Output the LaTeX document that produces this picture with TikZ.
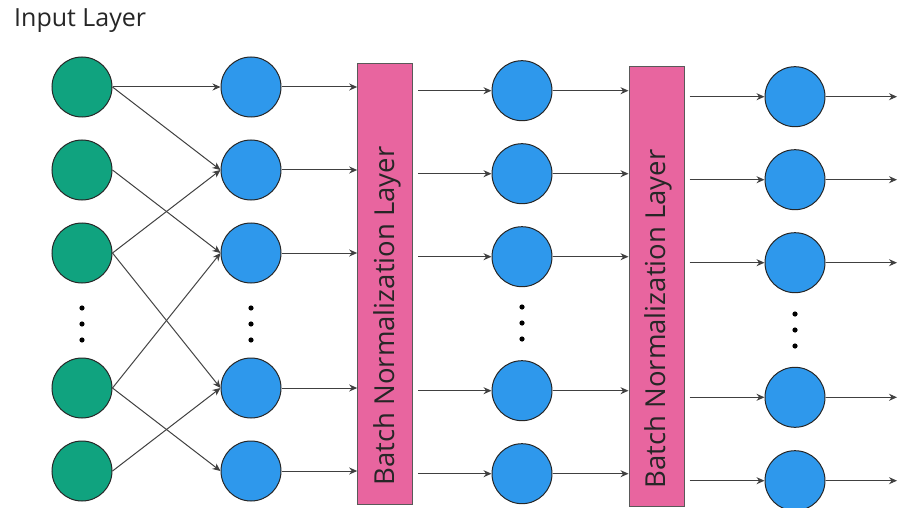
\documentclass[tikz,border=0pt]{standalone}
\usepackage{fontspec}
\setmainfont{Open Sans}
\usepackage{tikz}
\usetikzlibrary{arrows.meta}
\usetikzlibrary{calc}
\definecolor{inputgreen}{HTML}{10A37F}
\definecolor{unitblue}{HTML}{2E98EC}
\definecolor{normpink}{HTML}{E8659F}
\tikzstyle{input}=[draw=black!85,fill=inputgreen,circle,minimum size=60pt,inner sep=0pt,line width=1pt]
\tikzstyle{unit}=[draw=black!85,fill=unitblue,circle,minimum size=60pt,inner sep=0pt,line width=1pt]
\tikzstyle{normlayer}=[draw=black!65,fill=normpink,minimum width=55pt,minimum height=440pt,inner sep=0pt,line width=1pt]

\begin{document}
\begin{tikzpicture}[x=1pt,y=-1pt]
\tikzstyle{wire}=[draw=black!75,line width=1pt,-{Stealth[length=8pt,width=7pt]}]
\tikzstyle{normtext}=[rotate=90,inner sep=0pt,text=black!85,font=\fontsize{27.5}{33}\selectfont]
\useasboundingbox (0,0) rectangle (905,508);

\node[anchor=base west,inner sep=0pt,text=black!85,font=\fontsize{25}{30}\selectfont] (title) at (14,26.7) {Input Layer};

% input layer and first hidden layer
\foreach \i/\y in {1/87,2/170,3/253,4/388,5/471} {
  \node[input] (g\i) at (82,\y) {};
  \node[unit] (a\i) at (251,\y) {};
}
\foreach \i/\y in {1/90.7,2/173.7,3/256.7,4/390.7,5/473.7}
  \node[unit] (b\i) at (522,\y) {};
\foreach \i/\y in {1/96.7,2/179.7,3/262.7,4/397.3,5/480.7}
  \node[unit] (c\i) at (795,\y) {};

% the two normalization blocks
\node[normlayer] (bn1) at (385.2,284) {};
\node[normtext] (bn1label) at (387,316) {Batch Normalization Layer};
\node[normlayer] (bn2) at (656.5,286.7) {};
\node[normtext] (bn2label) at (658,319) {Batch Normalization Layer};

\coordinate (out) at (897,0);

% skipped units
\foreach \x/\y in {82/308,251/308,522/307,795/314}
  \foreach \k in {0,1,2}
    \fill (\x,\y+16*\k) circle (2.6pt);

% crossed links into the first layer
\draw[wire] (g1.east) -- (a1.west);
\draw[wire] (g1.east) -- (a2.west);
\draw[wire] (g2.east) -- (a3.west);
\draw[wire] (g3.east) -- (a2.west);
\draw[wire] (g3.east) -- (a4.west);
\draw[wire] (g4.east) -- (a3.west);
\draw[wire] (g4.east) -- (a5.west);
\draw[wire] (g5.east) -- (a4.west);

\foreach \i in {1,...,5} {
  \draw[wire] (a\i.east) -- (a\i.east -| bn1.west);
  \draw[wire] ($(bn1.east |- b\i)+(5,0)$) -- (b\i.west);
  \draw[wire] (b\i.east) -- (b\i.east -| bn2.west);
  \draw[wire] ($(bn2.east |- c\i)+(5,0)$) -- (c\i.west);
  \draw[wire] (c\i.east) -- (c\i.east -| out);
}
\end{tikzpicture}
\end{document}
